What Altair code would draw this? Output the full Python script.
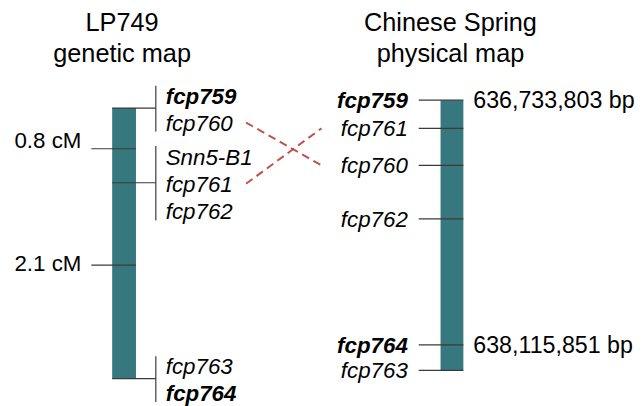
import altair as alt
import pandas as pd

# ---------------- data ----------------
# LP749 genetic map
gen_markers = ["fcp759", "fcp760", "Snn5-B1", "fcp761", "fcp762", "fcp763", "fcp764"]
gen_cm = [0.0, 0.0, 0.8, 0.8, 0.8, 2.9, 2.9]
gen_slot = [-0.5, 0.5, -1, 0, 1, -0.5, 0.5]          # order of label inside its bracket
gen_bold = [True, False, False, False, False, False, True]

interval_text = ["0.8 cM", "2.1 cM"]
interval_tick_cm = [0.436, 1.684]
interval_label_cm = [0.342, 1.662]

# Chinese Spring physical map
phys_markers = ["fcp759", "fcp761", "fcp760", "fcp762", "fcp764", "fcp763"]
phys_bp = [636733803, 636893000, 637102000, 637404000, 638115851, 638260000]
phys_bold = [True, False, False, False, True, False]

bp_text = ["636,733,803 bp", "638,115,851 bp"]
bp_pos = [636733803, 638115851]

connected = ["fcp760", "fcp761"]

titles_left = ["LP749", "genetic map"]
titles_right = ["Chinese Spring", "physical map"]

# ---------------- tables ----------------
gen = pd.DataFrame({"marker": gen_markers, "cM": gen_cm, "slot": gen_slot, "bold": gen_bold})
phys = pd.DataFrame({"marker": phys_markers, "bp": phys_bp, "bold": phys_bold})
intervals = pd.DataFrame({"text": interval_text, "tick": interval_tick_cm, "label": interval_label_cm})
bps = pd.DataFrame({"text": bp_text, "bp": bp_pos})
links = gen[gen["marker"].isin(connected)].merge(phys[["marker", "bp"]], on="marker")

# ---------------- style / layout ----------------
FONT = "Liberation Sans"
LAB = 22.5
TIT = 25.5
TEAL = "#36787E"
LINE = "#3a3a3a"
RED = "#C0504D"
SLOT_PX = 27.2

GEN_DOMAIN = [0.0, 2.9]
GEN_RANGE = [99.3, 372.0]
PHYS_DOMAIN = [636733803, 638115851]
PHYS_RANGE = [91.3, 338.0]

gen_scale = alt.Scale(domain=GEN_DOMAIN, range=GEN_RANGE, zero=False, nice=False)
phys_scale = alt.Scale(domain=PHYS_DOMAIN, range=PHYS_RANGE, zero=False, nice=False)


def gy(field):
    return alt.Y(field, type="quantitative", scale=gen_scale, axis=None)


def py(field):
    return alt.Y(field, type="quantitative", scale=phys_scale, axis=None)


gen_k = (GEN_RANGE[1] - GEN_RANGE[0]) / (GEN_DOMAIN[1] - GEN_DOMAIN[0])
phys_k = (PHYS_RANGE[1] - PHYS_RANGE[0]) / (PHYS_DOMAIN[1] - PHYS_DOMAIN[0])
slot_cm = SLOT_PX / gen_k   # label spacing expressed in map units
expr_left = f"{GEN_RANGE[0]} + (datum.cM - {GEN_DOMAIN[0]}) * {gen_k} + datum.slot * {SLOT_PX} + 1"
expr_right = f"{PHYS_RANGE[0]} + (datum.bp - {PHYS_DOMAIN[0]}) * {phys_k}"

layers = []

# ---- left (genetic) map ----
layers.append(
    alt.Chart(gen).transform_aggregate(lo="min(cM)", hi="max(cM)")
    .mark_rect(color=TEAL)
    .encode(x=alt.value(105), x2=alt.value(129), y=gy("lo"), y2=alt.Y2("hi"))
)
layers.append(
    alt.Chart(gen).transform_aggregate(n="count()", groupby=["cM"])
    .mark_rule(color=LINE, strokeWidth=1.2)
    .encode(x=alt.value(105), x2=alt.value(149), y=gy("cM"))
)
layers.append(
    alt.Chart(gen).transform_aggregate(n="count()", groupby=["cM"])
    .transform_filter("datum.n == 2")
    .mark_rule(color=LINE, strokeWidth=1.2, yOffset=-22.5, y2Offset=23.5)
    .encode(x=alt.value(149), y=gy("cM"), y2=alt.Y2("cM"))
)
layers.append(
    alt.Chart(gen).transform_aggregate(n="count()", groupby=["cM"])
    .transform_filter("datum.n == 3")
    .mark_rule(color=LINE, strokeWidth=1.2, yOffset=-37, y2Offset=38)
    .encode(x=alt.value(149), y=gy("cM"), y2=alt.Y2("cM"))
)
layers.append(
    alt.Chart(intervals).mark_rule(color=LINE, strokeWidth=1.2)
    .encode(x=alt.value(84), x2=alt.value(129), y=gy("tick"))
)
layers.append(
    alt.Chart(intervals).mark_text(align="right", baseline="middle", fontSize=LAB, dy=1, color="black")
    .encode(x=alt.value(74), y=gy("label"), text="text:N")
)
for is_bold in (False, True):
    layers.append(
        alt.Chart(gen)
        .transform_filter("datum.bold" if is_bold else "!datum.bold")
        .transform_calculate(ly=f"datum.cM + datum.slot * {slot_cm}")
        .mark_text(align="left", baseline="middle", fontSize=LAB, fontStyle="italic",
                   fontWeight="bold" if is_bold else "normal", dy=2, color="black")
        .encode(x=alt.value(159), y=gy("ly"), text="marker:N")
    )

# ---- right (physical) map ----
layers.append(
    alt.Chart(phys).transform_aggregate(lo="min(bp)", hi="max(bp)")
    .mark_rect(color=TEAL)
    .encode(x=alt.value(436), x2=alt.value(459), y=py("lo"), y2=alt.Y2("hi"))
)
layers.append(
    alt.Chart(phys).mark_rule(color=LINE, strokeWidth=1.2)
    .encode(x=alt.value(414), x2=alt.value(459), y=py("bp"))
)
for is_bold in (False, True):
    layers.append(
        alt.Chart(phys)
        .transform_filter("datum.bold" if is_bold else "!datum.bold")
        .mark_text(align="right", baseline="middle", fontSize=LAB, fontStyle="italic",
                   fontWeight="bold" if is_bold else "normal", dy=1, color="black")
        .encode(x=alt.value(403), y=py("bp"), text="marker:N")
    )
layers.append(
    alt.Chart(bps).mark_text(align="left", baseline="middle", fontSize=23.4, dy=1, color="black")
    .encode(x=alt.value(469), y=py("bp"), text="text:N")
)

# ---- connectors ----
layers.append(
    alt.Chart(links).transform_calculate(ya=expr_left, yb=expr_right)
    .mark_rule(color=RED, strokeWidth=2, strokeDash=[8, 5])
    .encode(x=alt.value(240), x2=alt.value(316),
            y=alt.Y("ya:Q", scale=None, axis=None), y2=alt.Y2("yb:Q"))
)


# ---- titles ----
def title(text, cx, base):
    return (
        alt.Chart(pd.DataFrame({"t": [text]}))
        .mark_text(align="center", baseline="alphabetic", fontSize=TIT, color="black")
        .encode(x=alt.value(cx), y=alt.value(base), text="t:N")
    )


layers.append(title(titles_left[0], 115, 22))
layers.append(title(titles_left[1], 115, 53))
layers.append(title(titles_right[0], 446, 22))
layers.append(title(titles_right[1], 446, 53))

chart = (
    alt.layer(*layers)
    .resolve_scale(y="independent")
    .properties(width=627, height=390, padding=0, background="white")
    .configure(font=FONT)
    .configure_view(stroke=None)
)

chart.save("out.html", embed_options={"renderer": "svg", "actions": False})
